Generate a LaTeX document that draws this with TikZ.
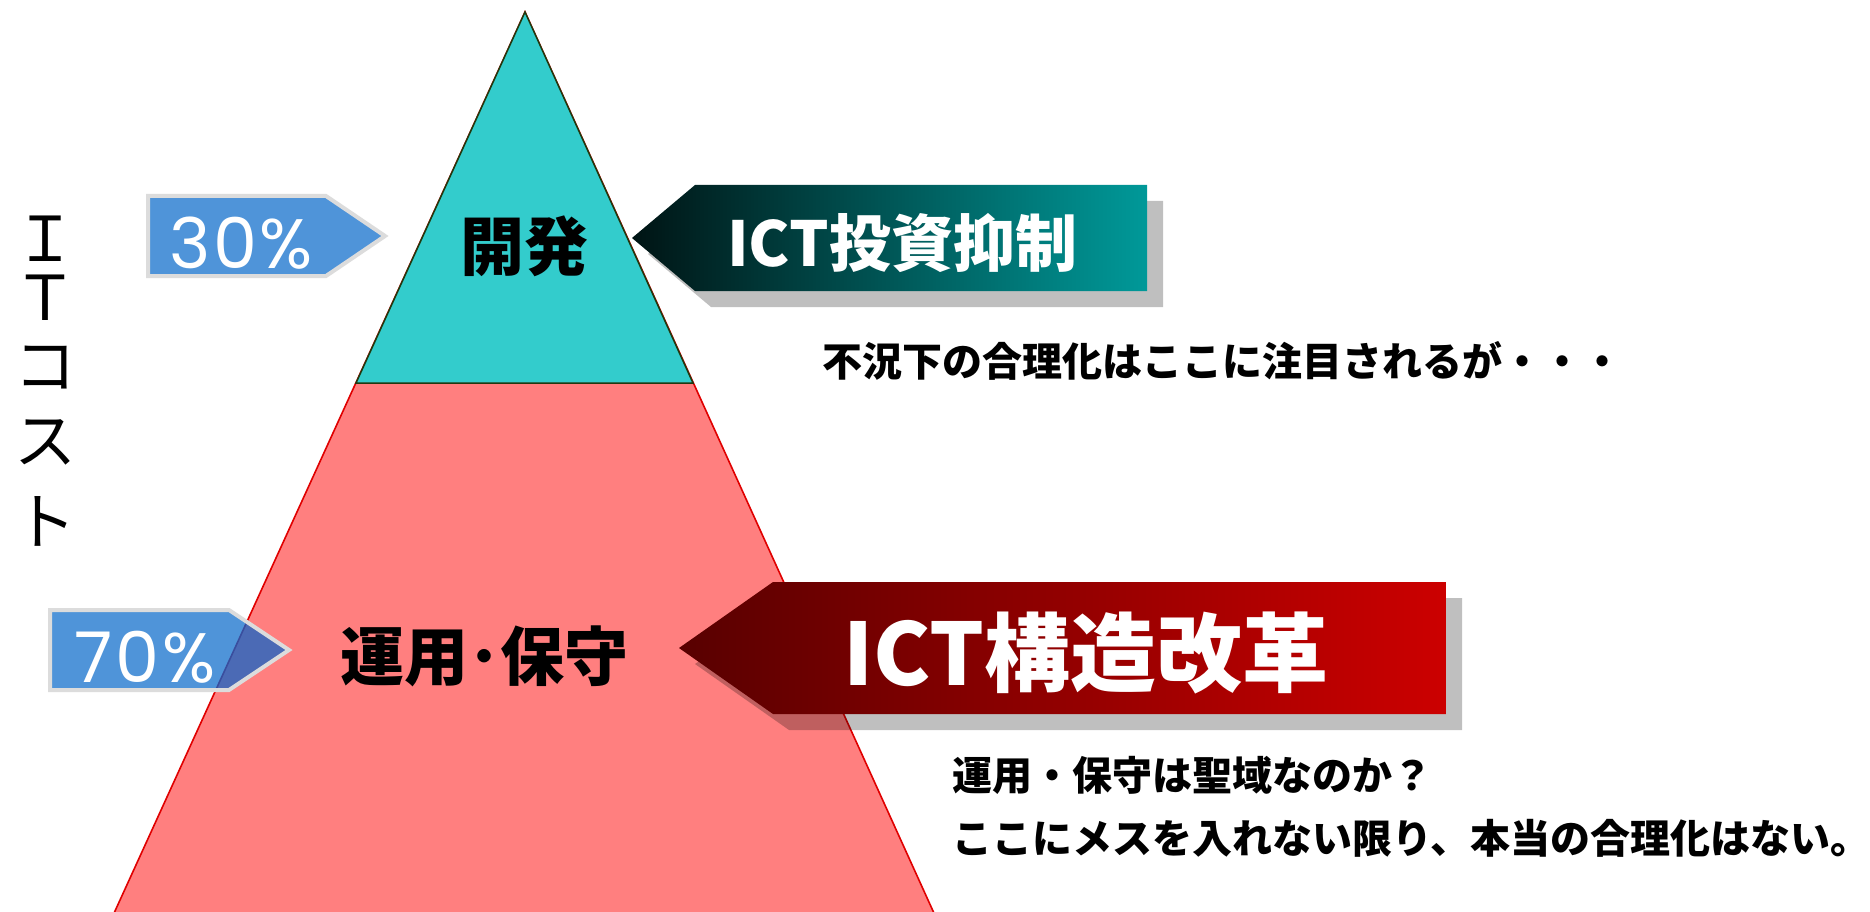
\documentclass[tikz,border=0pt]{standalone}
\usepackage{fontspec}
\newfontfamily\jp{Noto Sans CJK JP}
\newfontfamily\pop[LetterSpace=4]{Poppins}
\definecolor{tealfill}{HTML}{33CCCC}
\definecolor{tealline}{HTML}{1F3A10}
\definecolor{pinkfill}{HTML}{FF7F7F}
\definecolor{redline}{HTML}{E00000}
\definecolor{bluefill}{HTML}{4F94D9}
\definecolor{blueover}{HTML}{4B6AB5}
\definecolor{blueedge}{HTML}{3A4E9E}
\definecolor{bordergray}{HTML}{DCDCDC}
\definecolor{tealdark}{HTML}{001414}
\definecolor{teallight}{HTML}{009999}
\definecolor{reddark}{HTML}{580000}
\definecolor{redlight}{HTML}{CC0000}
\tikzset{
  pctarrow/.style={fill=bluefill},
  pctborder/.style={draw=bordergray, line width=4pt, line join=miter},
  pcttext/.style={text=white, font=\pop\fontsize{70}{70}\selectfont, inner sep=0pt},
  shadowbox/.style={fill=black, fill opacity=0.25},
  jlabel/.style={text=black, font=\jp\bfseries\fontsize{64}{64}\selectfont, inner sep=0pt},
  wlabel/.style={text=white, inner sep=0pt},
  note/.style={text=black, font=\jp\bfseries\fontsize{40}{40}\selectfont, inner sep=0pt, anchor=west},
  axischar/.style={text=black, font=\jp\fontsize{62}{62}\selectfont, inner sep=0pt}
}
\begin{document}
\begin{tikzpicture}[x=1pt, y=-1pt]
\useasboundingbox (0,0) rectangle (1870,912);
\clip (0,0) rectangle (1870,912);
\fill[white] (0,0) rectangle (1870,912);

% big red triangle (lower part)
\fill[pinkfill] (525,12) -- (938,922) -- (110,922) -- cycle;
\draw[redline, line width=1.6pt] (110,922) -- (525,12) -- (938,922);
% teal top triangle
\filldraw[fill=tealfill, draw=tealline, line width=1.5pt, line join=miter] (525,12) -- (693,383) -- (356,383) -- cycle;

% 30% arrow
\fill[pctarrow] (148,196) -- (326,196) -- (385,236) -- (326,276) -- (148,276) -- cycle;
\draw[pctborder] (148,196) -- (326,196) -- (385,236) -- (326,276) -- (148,276) -- cycle;
\node[pcttext] (p30) at (241,243) {30\%};

% 70% arrow
\fill[pctarrow] (50,610) -- (229,610) -- (289,650) -- (229,690) -- (50,690) -- cycle;
\begin{scope}
  \clip (525,12) -- (938,922) -- (110,922) -- cycle;
  \fill[blueover] (50,610) -- (229,610) -- (289,650) -- (229,690) -- (50,690) -- cycle;
\end{scope}
\begin{scope}
  \clip (50,610) -- (229,610) -- (289,650) -- (229,690) -- (50,690) -- cycle;
  \draw[blueedge, line width=1.6pt] (110,922) -- (525,12);
\end{scope}
\draw[pctborder] (50,610) -- (229,610) -- (289,650) -- (229,690) -- (50,690) -- cycle;
\node[pcttext] (p70) at (145,657) {70\%};

% ICT investment arrow (teal)
\fill[shadowbox] (648,254) -- (711,201) -- (1163,201) -- (1163,307) -- (711,307) -- cycle;
\shade[left color=tealdark, right color=teallight] (632,238) -- (695,185) -- (1147,185) -- (1147,291) -- (695,291) -- cycle;
\node[wlabel, font=\jp\bfseries\fontsize{62}{62}\selectfont] (ict1) at (902,243) {ICT投資抑制};

% ICT structural reform arrow (red)
\fill[shadowbox] (695,664) -- (789,598) -- (1462,598) -- (1462,730) -- (789,730) -- cycle;
\shade[left color=reddark, right color=redlight] (679,648) -- (773,582) -- (1446,582) -- (1446,714) -- (773,714) -- cycle;
\node[wlabel, font=\jp\bfseries\fontsize{86}{86}\selectfont] (ict2) at (1086,653) {ICT構造改革};

% triangle labels
\node[jlabel] (dev) at (524,246) {開発};
\node[jlabel] (ops) at (484,656) {運用･保守};

% notes
\node[note] (n1) at (822,361) {不況下の合理化はここに注目されるが・・・};
\node[note] (n2) at (952,775) {運用・保守は聖域なのか？};
\node[note] (n3) at (952,838) {ここにメスを入れない限り、本当の合理化はない。};

% vertical axis label
\node[axischar] (ax1) at (45,239) {Ｉ};
\node[axischar] (ax2) at (45,298) {Ｔ};
\node[axischar] (ax3) at (45,368) {コ};
\node[axischar] (ax4) at (45,442) {ス};
\node[axischar] (ax5) at (45,521) {ト};
\end{tikzpicture}
\end{document}
